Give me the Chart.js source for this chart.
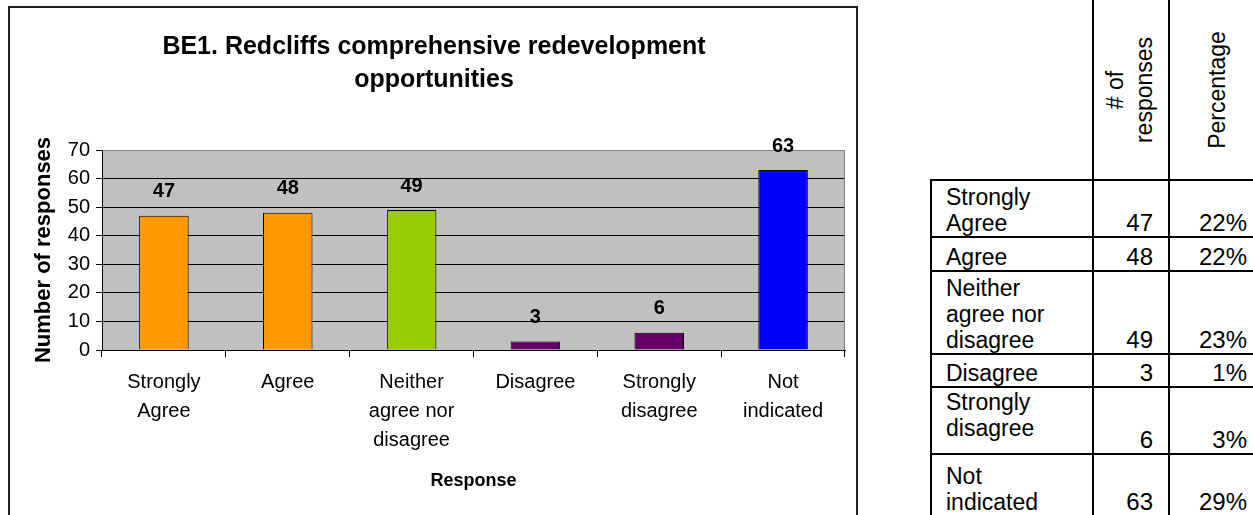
<!DOCTYPE html>
<html><head><meta charset="utf-8">
<script src="https://cdn.jsdelivr.net/npm/chart.js@4.4.1/dist/chart.umd.min.js"></script>
<style>
html,body{margin:0;padding:0;background:#fff;}
#wrap{position:relative;width:1253px;height:515px;overflow:hidden;font-family:'Liberation Sans',Arial,sans-serif;}
#frame{position:absolute;left:8px;top:6px;width:846px;height:540px;border:2px solid #222;}
#c{position:absolute;left:0;top:0;}
#tbl{position:absolute;left:930px;top:-6px;width:348px;border-collapse:collapse;table-layout:fixed;font-size:23px;line-height:26px;color:#000;}
#tbl td{border:2px solid #000;padding:0;vertical-align:bottom;white-space:nowrap;}
#tbl td.lab{padding-left:14px;text-align:left;}
#tbl td.lab.top{vertical-align:top;padding-top:1px;}
#tbl td.num{padding-right:15px;text-align:right;font-size:24px;}
#tbl td.pct{padding-right:31px;text-align:right;font-size:24px;}
#tbl td.blank{border:none;}
#tbl td.hd{position:relative;}
#tbl td.hd div{position:absolute;left:50%;top:94px;transform:translate(-50%,-50%) rotate(-90deg);text-align:center;line-height:29px;white-space:nowrap;font-size:23px;}
</style>
</head><body>
<div id="wrap">
  <div id="frame"></div>
  <canvas id="c" width="860" height="515"></canvas>
  <table id="tbl"></table>
</div>
<script>
// ---- data ----
const categories = [["Strongly","Agree"],["Agree"],["Neither","agree nor","disagree"],["Disagree"],["Strongly","disagree"],["Not","indicated"]];
const responses = [47, 48, 49, 3, 6, 63];
const percentages = ["22%", "22%", "23%", "1%", "3%", "29%"];
const chartTitle = ["BE1. Redcliffs comprehensive redevelopment", "opportunities"];
const yAxisTitle = "Number of responses";
const xAxisTitle = "Response";
const tableHeaders = [["# of", "responses"], ["Percentage"]];

// ---- styles ----
const barColors = ["#FF9900", "#FF9900", "#99CC00", "#660066", "#660066", "#0000FF"];
const rowHeights = [185, 57, 34, 83, 33, 67, 62];
const colWidths = [162, 76, 110];
const labelTopAligned = [false, false, false, false, true, false];
const FONT = "'Liberation Sans', Arial, sans-serif";

// ---- table ----
(function buildTable(){
  const t = document.getElementById('tbl');
  const cg = document.createElement('colgroup');
  colWidths.forEach(w => { const c = document.createElement('col'); c.style.width = w + 'px'; cg.appendChild(c); });
  t.appendChild(cg);
  const hr = document.createElement('tr');
  hr.style.height = rowHeights[0] + 'px';
  const b = document.createElement('td'); b.className = 'blank'; hr.appendChild(b);
  tableHeaders.forEach((h, k) => {
    const td = document.createElement('td'); td.className = 'hd';
    const d = document.createElement('div'); d.innerHTML = h.join('<br>');
    d.style.left = k === 1 ? '47px' : '36px';
    td.appendChild(d); hr.appendChild(td);
  });
  t.appendChild(hr);
  categories.forEach((cat, i) => {
    const tr = document.createElement('tr');
    tr.style.height = rowHeights[i + 1] + 'px';
    const a = document.createElement('td'); a.className = 'lab' + (labelTopAligned[i] ? ' top' : ''); a.innerHTML = cat.join('<br>');
    const n = document.createElement('td'); n.className = 'num'; n.textContent = responses[i];
    const p = document.createElement('td'); p.className = 'pct'; p.textContent = percentages[i];
    tr.appendChild(a); tr.appendChild(n); tr.appendChild(p);
    t.appendChild(tr);
  });
})();

// ---- chart ----
Chart.defaults.font.family = FONT;
Chart.defaults.color = '#000';

const plotBg = {
  id: 'plotBg',
  beforeDraw(chart) {
    const {ctx, chartArea: a} = chart;
    ctx.save();
    ctx.fillStyle = '#C0C0C0';
    ctx.fillRect(a.left, a.top, a.right - a.left, a.bottom - a.top);
    ctx.restore();
  },
  beforeDatasetsDraw(chart) {
    const {ctx, chartArea: a} = chart;
    ctx.save();
    ctx.strokeStyle = '#808080';
    ctx.lineWidth = 1;
    ctx.beginPath();
    ctx.moveTo(a.left, a.top + 0.5);
    ctx.lineTo(a.right - 0.5, a.top + 0.5);
    ctx.lineTo(a.right - 0.5, a.bottom);
    ctx.stroke();
    ctx.restore();
  }
};

const valueLabels = {
  id: 'valueLabels',
  afterDatasetsDraw(chart) {
    const {ctx} = chart;
    const meta = chart.getDatasetMeta(0);
    const ys = chart.scales.y;
    ctx.save();
    ctx.font = 'bold 20px ' + FONT;
    ctx.fillStyle = '#000';
    ctx.textAlign = 'center';
    ctx.textBaseline = 'middle';
    meta.data.forEach((bar, i) => {
      const v = chart.data.datasets[0].data[i];
      ctx.fillText(String(v), bar.x, ys.getPixelForValue(v) - 24);
    });
    ctx.restore();
  }
};

new Chart(document.getElementById('c'), {
  type: 'bar',
  data: {
    labels: categories,
    datasets: [{
      data: responses,
      backgroundColor: barColors,
      borderColor: '#000',
      borderWidth: 1,
      barPercentage: 0.4,
      categoryPercentage: 1
    }]
  },
  options: {
    responsive: false,
    animation: false,
    devicePixelRatio: 1,
    layout: { padding: { left: 23, right: 15, top: 0, bottom: 0 } },
    plugins: {
      legend: { display: false },
      tooltip: { enabled: false },
      title: {
        display: true,
        text: chartTitle,
        color: '#000',
        font: { size: 25, weight: 'bold', lineHeight: 1.32 },
        padding: { top: 30.5, bottom: 53.5 }
      }
    },
    scales: {
      x: {
        grid: { display: true, drawOnChartArea: false, drawTicks: true, tickLength: 7, color: '#000', offset: true },
        border: { display: true, color: '#000', width: 1 },
        ticks: { font: { size: 20, lineHeight: 1.45 }, color: '#000', padding: 10.5, maxRotation: 0, autoSkip: false },
        title: { display: true, text: xAxisTitle, color: '#000', font: { size: 18, weight: 'bold', lineHeight: 1.2 }, padding: 23 },
        afterFit(s) { s.height = 165; }
      },
      y: {
        min: 0, max: 70,
        grid: {
          color: c => (c.tick && c.tick.value === 70) ? '#808080' : '#000',
          tickColor: '#000',
          tickLength: 6,
          drawTicks: true
        },
        border: { display: true, color: '#000', width: 1 },
        ticks: { stepSize: 10, font: { size: 20 }, color: '#000', padding: 6 },
        title: { display: true, text: yAxisTitle, color: '#000', font: { size: 22, weight: 'bold', lineHeight: 1.2 }, padding: 8 },
        afterFit(s) { s.width = 79; }
      }
    }
  },
  plugins: [plotBg, valueLabels]
});
</script>
</body></html>
